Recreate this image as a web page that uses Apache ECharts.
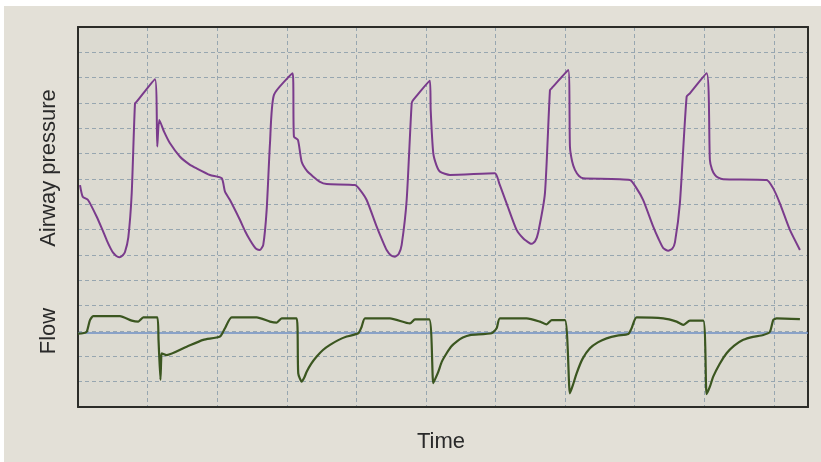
<!DOCTYPE html>
<html>
<head>
<meta charset="utf-8">
<script src="https://cdn.jsdelivr.net/npm/echarts@6/dist/echarts.min.js"></script>
<style>
html,body{margin:0;padding:0;background:#ffffff;width:821px;height:462px;overflow:hidden;}
#chart{position:absolute;left:4px;top:6px;width:817px;height:456px;background:#e3e0d7;}
</style>
</head>
<body>
<div id="chart"></div>
<script>
// x in time grid divisions, y in amplitude grid divisions
const pressureX = [0.029,0.068,0.144,0.269,0.350,0.412,0.470,0.507,0.550,0.593,0.640,0.675,0.723,0.772,0.819,0.843,1.106,1.139,1.168,1.240,1.322,1.466,1.600,1.705,1.897,2.065,2.112,2.184,2.328,2.400,2.471,2.530,2.568,2.615,2.662,2.711,2.759,2.816,3.085,3.103,3.161,3.214,3.290,3.381,3.470,3.573,3.980,4.052,4.148,4.292,4.370,4.435,4.500,4.555,4.610,4.651,4.723,4.795,4.818,5.057,5.068,5.105,5.150,5.201,5.345,5.991,6.053,6.159,6.303,6.400,6.494,6.519,6.570,6.614,6.710,6.782,6.806,7.045,7.069,7.100,7.141,7.200,7.260,7.931,8.027,8.122,8.266,8.340,8.410,8.481,8.540,8.578,8.649,8.746,8.793,9.033,9.080,9.110,9.152,9.200,9.272,9.895,9.990,10.086,10.230,10.374];
const pressureY = [8.76,8.30,8.17,7.51,7.00,6.59,6.25,6.08,5.96,5.91,5.98,6.12,6.70,8.45,11.99,12.05,12.94,10.28,11.33,10.85,10.41,9.88,9.58,9.42,9.16,9.03,8.50,8.17,7.38,6.95,6.59,6.34,6.23,6.20,6.40,7.78,10.42,12.32,13.17,10.67,10.54,9.68,9.32,9.09,8.90,8.80,8.76,8.57,8.17,7.12,6.60,6.20,5.98,5.93,6.05,6.40,8.17,11.99,12.12,12.88,11.73,10.02,9.55,9.29,9.16,9.23,8.83,8.04,6.99,6.65,6.46,6.44,6.55,6.90,8.44,12.51,12.58,13.30,10.28,9.70,9.36,9.12,9.03,8.96,8.63,8.17,7.12,6.65,6.27,6.17,6.25,6.50,8.04,12.25,12.38,13.17,9.75,9.38,9.16,9.05,8.99,8.96,8.63,8.04,6.99,6.20];
const flowX = [0,0.068,0.125,0.172,0.220,0.603,0.772,0.866,0.938,1.139,1.157,1.185,1.195,1.203,1.274,1.562,1.800,2.040,2.112,2.208,2.568,2.759,2.855,2.927,3.142,3.165,3.214,3.250,3.286,3.350,3.430,3.520,3.621,3.740,3.861,4.027,4.076,4.124,4.483,4.770,4.842,5.047,5.105,5.140,5.177,5.230,5.297,5.360,5.441,5.530,5.632,5.944,6.016,6.063,6.447,6.638,6.734,6.806,6.997,7.069,7.110,7.165,7.250,7.356,7.470,7.596,7.750,7.907,7.955,8.027,8.410,8.602,8.697,8.793,8.984,9.033,9.080,9.128,9.220,9.320,9.430,9.559,9.700,9.847,9.943,9.990,10.039,10.374];
const flowY = [2.90,2.91,2.97,3.43,3.59,3.59,3.41,3.37,3.54,3.54,2.65,1.07,1.86,2.12,2.05,2.38,2.65,2.78,3.11,3.54,3.54,3.37,3.33,3.50,3.50,1.33,1.00,1.15,1.39,1.70,1.99,2.25,2.45,2.64,2.78,2.91,3.17,3.50,3.50,3.30,3.46,3.46,0.94,1.15,1.39,1.80,2.12,2.38,2.58,2.74,2.84,2.91,3.11,3.50,3.50,3.37,3.26,3.43,3.43,0.54,0.85,1.33,1.90,2.32,2.55,2.71,2.82,2.88,3.11,3.54,3.50,3.37,3.24,3.41,3.41,0.51,0.80,1.20,1.70,2.12,2.42,2.65,2.77,2.84,2.97,3.43,3.50,3.47];
const baselineX = [0, 10.49];
const baselineY = [2.92, 2.92];
const axisLabels = {y1:'Airway pressure', y2:'Flow', x:'Time'};

const zip = (a,b) => a.map((v,i)=>[v,b[i]]);
const chart = echarts.init(document.getElementById('chart'), null, {renderer:'canvas'});
const gridLine = {show:true, lineStyle:{color:'#97a6b0', width:1, type:[4,3]}};
const frame = {show:true, onZero:false, lineStyle:{color:'#2c2c28', width:2}};
const hidden = {axisTick:{show:false}, axisLabel:{show:false}};
chart.setOption({
  animation:false,
  backgroundColor:'#e3e0d7',
  grid:{left:74, top:21, width:730, height:380, show:true, backgroundColor:'#dcdad1', borderWidth:0},
  xAxis:[
    Object.assign({type:'value', min:0, max:10.49, interval:1, position:'bottom', axisLine:frame, splitLine:gridLine}, hidden),
    Object.assign({type:'value', min:0, max:10.49, interval:1, position:'top', axisLine:frame, splitLine:{show:false}}, hidden)
  ],
  yAxis:[
    Object.assign({type:'value', min:0, max:15, interval:1, position:'left', axisLine:frame, splitLine:gridLine}, hidden),
    Object.assign({type:'value', min:0, max:15, interval:1, position:'right', axisLine:frame, splitLine:{show:false}}, hidden)
  ],
  series:[
    {type:'line', data:zip(baselineX, baselineY), symbol:'none', lineStyle:{color:'#6f8fc4', width:1.5}, z:2},
    {type:'line', data:zip(pressureX, pressureY), symbol:'none', smooth:0.2, lineStyle:{color:'#7a3b8c', width:2}, z:3},
    {type:'line', data:zip(flowX, flowY), symbol:'none', smooth:0.2, lineStyle:{color:'#3b5620', width:2.2}, z:3}
  ],
  graphic:[
    {type:'text', x:45, y:162, rotation:Math.PI/2, style:{text:axisLabels.y1, font:'22px "Liberation Sans", Arial, sans-serif', fill:'#2a2a2a', align:'center', verticalAlign:'middle'}},
    {type:'text', x:45, y:325, rotation:Math.PI/2, style:{text:axisLabels.y2, font:'22px "Liberation Sans", Arial, sans-serif', fill:'#2a2a2a', align:'center', verticalAlign:'middle'}},
    {type:'text', x:437, y:436, style:{text:axisLabels.x, font:'22px "Liberation Sans", Arial, sans-serif', fill:'#2a2a2a', align:'center', verticalAlign:'middle'}}
  ]
});
</script>
</body>
</html>
